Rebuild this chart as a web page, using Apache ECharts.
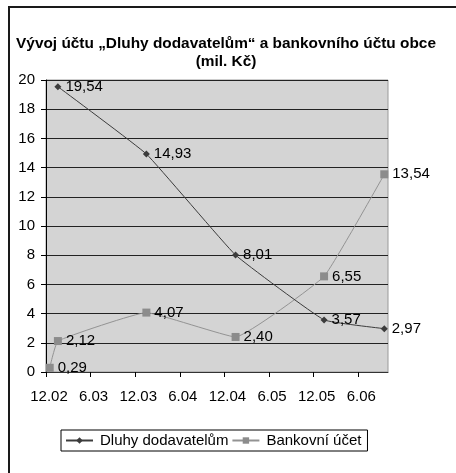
<!DOCTYPE html>
<html>
<head>
<meta charset="utf-8">
<script src="https://cdn.jsdelivr.net/npm/echarts@6/dist/echarts.min.js"></script>
<style>
  html, body { margin: 0; padding: 0; background: #fff; }
  #wrap { position: relative; width: 456px; height: 473px; overflow: hidden; }
  #frame { position: absolute; left: 8px; top: 6px; width: 460px; height: 480px;
           border-left: 2px solid #1a1a1a; border-top: 2px solid #1a1a1a; }
  #chart { position: absolute; left: 0; top: 0; width: 456px; height: 473px; }
</style>
</head>
<body>
<div id="wrap">
  <div id="frame"></div>
  <div id="chart"></div>
</div>
<script>
// popisky osy x (po 6 měsících)
const tickLabels = ['12.02', '6.03', '12.03', '6.04', '12.04', '6.05', '12.05', '6.06']
// poloha bodů v měsících od 12.02
const dluhyX = [1.6, 13.5, 25.5, 37.4, 45.5]
const dluhyY = [19.54, 14.93, 8.01, 3.57, 2.97]
const bankX = [0.5, 1.6, 13.5, 25.5, 37.4, 45.5]
const bankY = [0.29, 2.12, 4.07, 2.40, 6.55, 13.54]

const font = 'Liberation Sans, Arial, sans-serif'
const tickValues = tickLabels.map((_, i) => i * 6)

const fmtLabel = (p) => p.value[1].toFixed(2).replace('.', ',')

const chart = echarts.init(document.getElementById('chart'))
chart.setOption({
  animation: false,
  textStyle: { fontFamily: font, color: '#000' },
  title: {
    text: 'Vývoj účtu „Dluhy dodavatelům“ a bankovního účtu obce\n(mil. Kč)',
    left: 221,
    textAlign: 'center',
    top: 30,
    textStyle: { fontFamily: font, fontSize: 15.4, fontWeight: 'bold', color: '#000', lineHeight: 18 },
  },
  grid: {
    left: 46, right: 68, top: 80, bottom: 101,
    show: true,
    backgroundColor: '#d4d4d4',
    borderColor: '#9a9a9a',
    borderWidth: 1,
  },
  legend: {
    left: 61,
    top: 430,
    itemWidth: 27,
    itemHeight: 8,
    itemGap: 3,
    padding: [3, 6, 3, 4],
    borderColor: '#000',
    borderWidth: 1,
    borderRadius: 0,
    textStyle: { fontFamily: font, fontSize: 15, color: '#000', padding: [0, 0, 0, 2] },
    data: ['Dluhy dodavatelům', 'Bankovní účet'],
  },
  xAxis: {
    type: 'value',
    min: 0,
    max: 46,
    interval: 6,
    splitLine: { show: false },
    axisLine: { lineStyle: { color: '#333', width: 1 } },
    axisTick: { show: true, length: 5, lineStyle: { color: '#000' }, customValues: tickValues },
    axisLabel: {
      customValues: tickValues,
      margin: 17,
      fontSize: 15,
      color: '#000',
      padding: [0, 0, 0, 6],
      formatter: (v) => tickLabels[Math.round(v / 6)] || '',
    },
  },
  yAxis: {
    type: 'value',
    min: 0,
    max: 20,
    interval: 2,
    axisLine: { show: true, lineStyle: { color: '#000', width: 1 } },
    axisTick: { show: true, length: 5, lineStyle: { color: '#000' } },
    axisLabel: { fontSize: 15, color: '#000', margin: 11 },
    splitLine: { lineStyle: { color: '#222', width: 1 } },
  },
  series: [
    {
      name: 'Dluhy dodavatelům',
      type: 'line',
      data: dluhyX.map((x, i) => [x, dluhyY[i]]),
      smooth: 0.1,
      symbol: 'diamond',
      symbolSize: 7,
      lineStyle: { color: '#3c3c3c', width: 1 },
      itemStyle: { color: '#3c3c3c' },
      label: { show: true, position: 'right', distance: 4, fontSize: 15, color: '#000', formatter: fmtLabel },
      z: 3,
    },
    {
      name: 'Bankovní účet',
      type: 'line',
      data: bankX.map((x, i) => [x, bankY[i]]),
      smooth: 0.1,
      symbol: 'rect',
      symbolSize: 8,
      lineStyle: { color: '#939393', width: 1 },
      itemStyle: { color: '#8c8c8c' },
      label: { show: true, position: 'right', distance: 4, fontSize: 15, color: '#000', formatter: fmtLabel },
      z: 2,
    },
  ],
})
</script>
</body>
</html>
